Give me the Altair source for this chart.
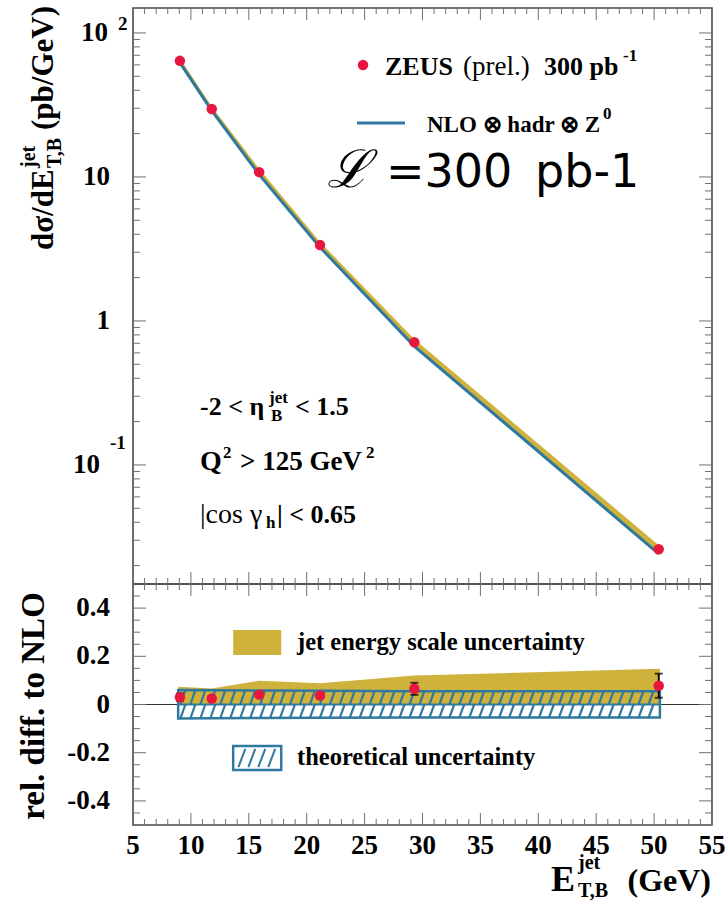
import altair as alt
import numpy as np
import pandas as pd

# ---------------------------------------------------------------- data
# jet transverse energy bin centres (GeV)
et_jet = [9.05, 11.8, 15.9, 21.15, 29.3, 50.4]
# measured cross section dsigma/dE_T (pb/GeV)
xsec = [64.0, 29.6, 10.8, 3.37, 0.71, 0.026]
# relative difference to NLO and its statistical error
rel_diff = [0.030, 0.025, 0.041, 0.037, 0.065, 0.078]
rel_err = [0.015, 0.010, 0.010, 0.010, 0.025, 0.050]
# uncertainty bands, relative to NLO
band_x = [8.9, 11.8, 15.9, 21.15, 29.3, 50.5]
jes_up = [0.074, 0.066, 0.099, 0.088, 0.120, 0.148]
jes_dn = [0.0, 0.0, 0.0, 0.0, 0.0, 0.0]
theo_up = [0.060, 0.059, 0.058, 0.057, 0.055, 0.055]
theo_dn = [-0.058, -0.057, -0.056, -0.055, -0.054, -0.054]

# axis ticks and labels
x_major = [5, 10, 15, 20, 25, 30, 35, 40, 45, 50, 55]
x_minor = [v for v in range(5, 56) if v % 5]
y_top_major = [100, 10, 1, 0.1]
y_top_mant = ["10", "10", "1", "10"]
y_top_exp = ["2", "", "", "-1"]
y_top_minor = [k * 10.0 ** e for e in (-2, -1, 0, 1) for k in range(2, 10)]
y_bot_major = [0.4, 0.2, 0.0, -0.2, -0.4]
y_bot_text = ["0.4", "0.2", "0", "-0.2", "-0.4"]
y_bot_minor = [-0.45, -0.35, -0.3, -0.25, -0.15, -0.1, -0.05,
               0.05, 0.1, 0.15, 0.25, 0.3, 0.35, 0.45]

# ---------------------------------------------------------------- style
SERIF = "Liberation Serif"
SANS = "DejaVu Sans"
RED = "#e8173f"
YEL = "#cfb23b"
BLUE = "#2f78a0"
FRAME = "#4a4a4a"
TICK = "#6f6f6f"

W, H, H_TOP = 579, 817, 576

x_scale = alt.Scale(domain=[5, 55], nice=False, zero=False)


def y_top():
    return alt.Scale(type="log", domain=[0.0149, 149], range=[H_TOP, 0], nice=False)


def y_bot():
    return alt.Scale(domain=[-0.5, 0.5], range=[H, H_TOP], nice=False, zero=False)


def X(f):
    return alt.X(f, type="quantitative", scale=x_scale, axis=None)


def YT(f):
    return alt.Y(f, type="quantitative", scale=y_top(), axis=None)


def YB(f):
    return alt.Y(f, type="quantitative", scale=y_bot(), axis=None)


one = pd.DataFrame({"a": [0]})


def txt(s, x, y, size=26, weight="bold", align="left", baseline="middle",
        font=SERIF, angle=0, style="normal"):
    return alt.Chart(one).mark_text(
        text=s, font=font, fontSize=size, fontWeight=weight, fontStyle=style,
        align=align, baseline=baseline, angle=angle, color="black",
    ).encode(x=alt.value(x), y=alt.value(y))


layers = []

# ---------------------------------------------------------------- top panel
nlo = np.array(xsec) / (1 + np.array(rel_diff))
top = pd.DataFrame({
    "et": et_jet, "xsec": xsec, "nlo": nlo,
    "nlo_hi": nlo * (1 + np.array(jes_up)),
})
layers.append(alt.Chart(top).mark_area(color=YEL, opacity=1).encode(
    x=X("et"), y=YT("nlo"), y2="nlo_hi"))
layers.append(alt.Chart(top).mark_line(color=BLUE, strokeWidth=3).encode(
    x=X("et"), y=YT("nlo")))
layers.append(alt.Chart(top).mark_point(filled=True, color=RED, size=110, opacity=1).encode(
    x=X("et"), y=YT("xsec")))

# ---------------------------------------------------------------- bottom panel
band = pd.DataFrame({"x": band_x, "jes_up": jes_up, "jes_dn": jes_dn,
                     "theo_up": theo_up, "theo_dn": theo_dn})
layers.append(alt.Chart(one).transform_calculate(z="0").mark_rule(
    color="#333333", strokeWidth=1.2).encode(
    y=YB("z:Q"), x=alt.value(0), x2=alt.value(W)))
layers.append(alt.Chart(band).mark_area(color=YEL, opacity=1).encode(
    x=X("x"), y=YB("jes_up"), y2="jes_dn"))

# hatching of the theoretical band
HATCH_STEP, HATCH_DX = 0.86, 0.42
segs = []
for xs in np.arange(band_x[0] + 0.2, band_x[-1] - HATCH_DX, HATCH_STEP):
    xe = xs + HATCH_DX
    segs.append({"x": xs, "x2": xe, "y": 0.0, "y2": float(np.interp(xe, band_x, theo_up))})
    segs.append({"x": xs, "x2": xe, "y": float(np.interp(xs, band_x, theo_dn)), "y2": 0.0})
layers.append(alt.Chart(pd.DataFrame(segs)).mark_rule(color=BLUE, strokeWidth=2.2).encode(
    x=X("x"), x2="x2", y=YB("y"), y2="y2"))
layers.append(alt.Chart(band).mark_area(filled=False, color=BLUE, strokeWidth=2.5).encode(
    x=X("x"), y=YB("theo_up"), y2="theo_dn"))
mid = pd.DataFrame({"x": [band_x[0]], "x2": [band_x[-1]], "z": [0.0]})
layers.append(alt.Chart(mid).mark_rule(color=BLUE, strokeWidth=2).encode(
    x=X("x"), x2="x2", y=YB("z")))

bot = pd.DataFrame({"et": et_jet, "rel": rel_diff,
                    "lo": np.array(rel_diff) - np.array(rel_err),
                    "hi": np.array(rel_diff) + np.array(rel_err)})
layers.append(alt.Chart(bot).mark_rule(color="black", strokeWidth=1.8).encode(
    x=X("et"), y=YB("lo"), y2="hi"))
for f in ("lo", "hi"):
    layers.append(alt.Chart(bot).mark_tick(orient="horizontal", color="black",
                                           size=8, thickness=2).encode(x=X("et"), y=YB(f)))
layers.append(alt.Chart(bot).mark_point(filled=True, color=RED, size=110, opacity=1).encode(
    x=X("et"), y=YB("rel")))

# legend of the ratio panel
LEG_X = [13.65, 17.8]
LEG_JES_Y = [0.205, 0.309]
LEG_THEO_Y = [-0.272, -0.172]
leg_j = pd.DataFrame({"x": [LEG_X[0]], "x2": [LEG_X[1]], "y": [LEG_JES_Y[0]], "y2": [LEG_JES_Y[1]]})
leg_t = pd.DataFrame({"x": [LEG_X[0]], "x2": [LEG_X[1]], "y": [LEG_THEO_Y[0]], "y2": [LEG_THEO_Y[1]]})
layers.append(alt.Chart(leg_j).mark_rect(color=YEL).encode(
    x=X("x"), x2="x2", y=YB("y"), y2="y2"))
lsegs = [{"x": xs, "x2": xs + 0.6, "y": LEG_THEO_Y[0] + 0.012, "y2": LEG_THEO_Y[1] - 0.012}
         for xs in np.arange(LEG_X[0] + 0.45, LEG_X[1] - 0.6, 0.86)]
layers.append(alt.Chart(pd.DataFrame(lsegs)).mark_rule(color=BLUE, strokeWidth=2).encode(
    x=X("x"), x2="x2", y=YB("y"), y2="y2"))
layers.append(alt.Chart(leg_t).mark_rect(filled=False, color=BLUE, strokeWidth=2.5).encode(
    x=X("x"), x2="x2", y=YB("y"), y2="y2"))
layers.append(txt("jet energy scale uncertainty", 164, 635, size=24.5))
layers.append(txt("theoretical uncertainty", 164, 750, size=24.5))

# ---------------------------------------------------------------- frames and ticks
for y0, y1 in ((0, H_TOP), (H_TOP, H)):
    layers.append(alt.Chart(one).mark_rect(filled=False, color=FRAME, strokeWidth=1.6).encode(
        x=alt.value(0), x2=alt.value(W), y=alt.value(y0), y2=alt.value(y1)))


def xticks(vals, y0, length):
    return alt.Chart(pd.DataFrame({"v": vals})).mark_rule(color=TICK, strokeWidth=1).encode(
        x=X("v"), y=alt.value(y0), y2=alt.value(y0 + length))


for y0, d in ((0, 1), (H_TOP, -1), (H_TOP, 1), (H, -1)):
    layers.append(xticks(x_major, y0, 12 * d))
    layers.append(xticks(x_minor, y0, 6 * d))


def yticks(vals, yenc, x0, length):
    return alt.Chart(pd.DataFrame({"v": vals})).mark_rule(color=TICK, strokeWidth=1).encode(
        y=yenc("v"), x=alt.value(x0), x2=alt.value(x0 + length))


for x0, d in ((0, 1), (W, -1)):
    layers.append(yticks(y_top_major, YT, x0, 13 * d))
    layers.append(yticks(y_top_minor, YT, x0, 7 * d))
    layers.append(yticks(y_bot_major, YB, x0, 13 * d))
    layers.append(yticks(y_bot_minor, YB, x0, 7 * d))

# ---------------------------------------------------------------- tick labels
xl = pd.DataFrame({"v": x_major, "t": [str(v) for v in x_major]})
layers.append(alt.Chart(xl).mark_text(font=SERIF, fontSize=27, fontWeight="bold",
                                      baseline="middle", align="center", color="black").encode(
    x=X("v"), y=alt.value(838), text="t:N"))

for v, m, e in zip(y_top_major, y_top_mant, y_top_exp):
    d = pd.DataFrame({"v": [v]})
    right = -33 if e == "-1" else -23
    if e == "2":
        right = -25
    layers.append(alt.Chart(d).mark_text(text=m, font=SERIF, fontSize=27, fontWeight="bold",
                                         align="right", baseline="middle", color="black").encode(
        y=YT("v"), x=alt.value(right)))
    if e:
        layers.append(alt.Chart(d).mark_text(
            text=e, font=SERIF, fontSize=19, fontWeight="bold", align="left",
            baseline="middle", color="black", dy=-9 if e == "2" else -22).encode(
            y=YT("v"), x=alt.value(-15 if e == "2" else -23)))

yl = pd.DataFrame({"v": y_bot_major, "t": y_bot_text})
layers.append(alt.Chart(yl).mark_text(font=SERIF, fontSize=27, fontWeight="bold",
                                      align="right", baseline="middle", color="black").encode(
    y=YB("v"), x=alt.value(-23), text="t:N"))

# ---------------------------------------------------------------- axis titles
layers.append(txt("dσ/dE", -80, 242, size=31, baseline="alphabetic", angle=270))
layers.append(txt("jet", -98, 160, size=20, baseline="alphabetic", angle=270))
layers.append(txt("T,B", -72, 160, size=20, baseline="alphabetic", angle=270))
layers.append(txt("(pb/GeV)", -80, 122, size=31, baseline="alphabetic", angle=270))
layers.append(txt("rel. diff. to NLO", -89, 698, size=33, baseline="alphabetic",
                  angle=270, align="center"))

layers.append(txt("E", 442, 883, size=36, baseline="alphabetic", align="right"))
layers.append(txt("jet", 445, 861, size=20, baseline="alphabetic"))
layers.append(txt("T,B", 445, 889, size=20, baseline="alphabetic"))
layers.append(txt("(GeV)", 578, 883, size=32, baseline="alphabetic", align="right"))

# ---------------------------------------------------------------- legend of the spectrum panel
layers.append(alt.Chart(one).mark_point(filled=True, color=RED, size=110, opacity=1).encode(
    x=alt.value(230), y=alt.value(57)))
layers.append(txt("ZEUS", 252, 59, size=26))
layers.append(txt("(prel.)", 330, 59, size=27, weight="normal"))
layers.append(txt("300 pb", 411, 59, size=26))
layers.append(txt("-1", 490, 48, size=17))
layers.append(alt.Chart(one).mark_rule(color=BLUE, strokeWidth=3).encode(
    x=alt.value(224), x2=alt.value(272), y=alt.value(115)))
layers.append(txt("NLO ⊗ hadr ⊗ Z", 294, 117, size=23))
layers.append(txt("0", 470, 106, size=17))

layers.append(txt("ℒ", 194, 179, size=52, weight="normal", baseline="alphabetic",
                  font="DejaVu Serif", style="italic"))
layers.append(txt("=300", 253, 179, size=46, weight="normal", baseline="alphabetic", font=SANS))
layers.append(txt("pb-1", 402, 179, size=46, weight="normal", baseline="alphabetic", font=SANS))

# selection cuts
layers.append(txt("-2 < η", 67, 399, size=26))
layers.append(txt("jet", 136, 390, size=17))
layers.append(txt("B", 138, 408, size=17))
layers.append(txt("< 1.5", 162, 399, size=26))
layers.append(txt("Q", 67, 454, size=28))
layers.append(txt("2", 90, 445, size=17))
layers.append(txt("> 125 GeV", 107, 454, size=27))
layers.append(txt("2", 233, 445, size=17))
layers.append(txt("|cos γ", 67, 507, size=28, weight="normal"))
layers.append(txt("h", 133, 515, size=17))
layers.append(txt("| < 0.65", 144, 507, size=26))

chart = alt.layer(*layers).resolve_scale(y="independent").properties(
    width=W, height=H,
    autosize=alt.AutoSizeParams(type="none"),
    padding={"left": 133, "top": 8, "right": 15, "bottom": 76},
).configure_view(stroke=None)

chart.save("out.html", embed_options={"renderer": "svg", "actions": False})
